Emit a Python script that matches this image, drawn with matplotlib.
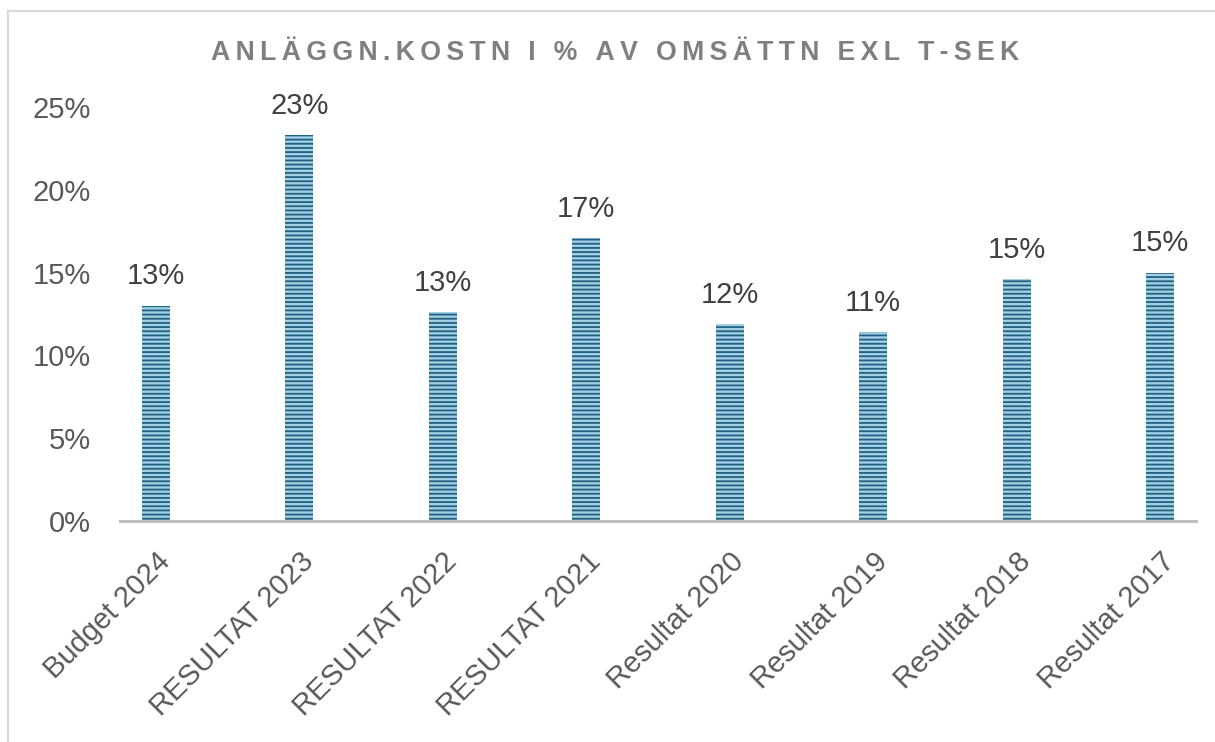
import numpy as np
import matplotlib
matplotlib.use("Agg")
import matplotlib.pyplot as plt

# ── Data ─────────────────────────────────────────────────────────────────────
categories = ["Budget 2024", "RESULTAT 2023", "RESULTAT 2022", "RESULTAT 2021",
              "Resultat 2020", "Resultat 2019", "Resultat 2018", "Resultat 2017"]
values = [13.0, 23.3, 12.6, 17.1, 11.9, 11.4, 14.6, 15.0]   # percent
y_ticks = [0, 5, 10, 15, 20, 25]
title = "ANLÄGGN.KOSTN I % AV OMSÄTTN EXL T-SEK"

plt.rcParams["font.family"] = ["Liberation Sans", "DejaVu Sans"]
plt.rcParams["hatch.linewidth"] = 1.3

fig = plt.figure(figsize=(12.15, 7.42), dpi=100)
ax = fig.add_axes([0.0988, 0.2978, 0.8856, 0.558])

x = np.arange(len(categories))
bars = ax.bar(x, values, width=0.195, color="#a3cfe3", edgecolor="#1f6286",
              linewidth=0, hatch="----", zorder=2)

for xi, v in zip(x, values):
    ax.annotate(f"{v:.0f}%", xy=(xi, v), xytext=(0, 11), textcoords="offset points",
                ha="center", va="bottom", fontsize=21, color="#404040",
                clip_on=False)

ax.set_xlim(-0.25, len(categories) - 0.75)
ax.set_ylim(0, 25)
ax.set_yticks(y_ticks)
ax.set_yticklabels([f"{t}%" for t in y_ticks], fontsize=21, color="#595959")
ax.tick_params(axis="y", length=0, pad=21)
ax.set_xticks(x)
ax.set_xticklabels(categories, rotation=45, ha="right", rotation_mode="anchor",
                   fontsize=21, color="#595959")
ax.tick_params(axis="x", length=0, pad=19)

for s in ["top", "right", "left"]:
    ax.spines[s].set_visible(False)
ax.spines["bottom"].set_color("#bfbfbf")
ax.spines["bottom"].set_linewidth(2.2)

# letter-spaced title
spaced = "\u2009".join(title)
fig.text(0.506, 0.928, spaced, ha="center", va="center", fontsize=19.2,
         fontweight="bold", color="#7f7f7f")

# chart area frame (left + top visible)
fig.add_artist(plt.Line2D([8 / 1215, 8 / 1215], [0, 1 - 11 / 742],
                          transform=fig.transFigure, color="#d9d9d9", lw=1.6))
fig.add_artist(plt.Line2D([8 / 1215, 1], [1 - 11 / 742, 1 - 11 / 742],
                          transform=fig.transFigure, color="#d9d9d9", lw=1.6))

fig.savefig("out.png", dpi=100, facecolor="white")
